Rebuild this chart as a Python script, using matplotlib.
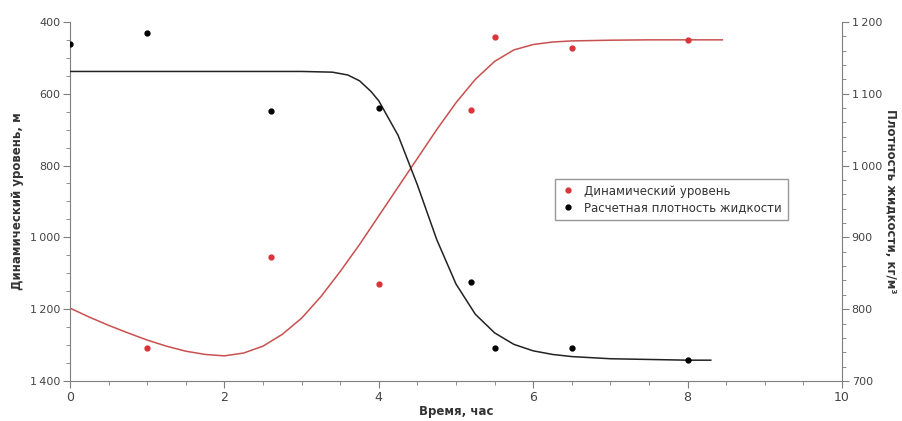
import matplotlib.pyplot as plt
from matplotlib.ticker import FuncFormatter, MultipleLocator

# measured points
t_pts = [0, 1, 2.6, 4, 5.2, 5.5, 6.5, 8]
level_pts = [None, 1308, 1055, 1130, 645, 442, 472, 450]
dens_pts = [1169, 1185, 1076, 1080, 838, 746, 746, 729]

# fitted curves
t_level = [0, 0.25, 0.5, 0.75, 1, 1.25, 1.5, 1.75, 2, 2.25, 2.5, 2.75, 3, 3.25, 3.5, 3.75,
           4, 4.25, 4.5, 4.75, 5, 5.25, 5.5, 5.75, 6, 6.25, 6.5, 7, 7.5, 8, 8.45]
level_fit = [1197, 1222, 1245, 1266, 1286, 1303, 1317, 1326, 1330, 1322, 1303, 1270, 1225, 1165,
             1095, 1020, 940, 860, 780, 700, 625, 560, 510, 478, 463, 456, 453, 451, 450, 450, 450]
t_dens = [0, 1, 2, 3, 3.4, 3.6, 3.75, 3.9, 4, 4.25, 4.5, 4.75, 5, 5.25, 5.5, 5.75, 6, 6.25,
          6.5, 7, 7.5, 8, 8.3]
dens_fit = [1131, 1131, 1131, 1131, 1130, 1126, 1118, 1103, 1090, 1042, 973, 897, 835, 793,
            767, 751, 742, 737, 734, 731, 730, 729, 729]

red = '#d9343a'
red_line = '#c8504f'
dark = '#222222'
gray = '#7f7f7f'

def thousands(v, pos):
    return f'{int(v):,}'.replace(',', '\u2009')

fig = plt.figure(figsize=(9.02, 4.21), dpi=100)
ax = fig.add_axes([0.0776, 0.095, 0.8559, 0.853])
ax2 = ax.twinx()

lx = [t for t, v in zip(t_pts, level_pts) if v is not None]
ly = [v for v in level_pts if v is not None]
ax.plot(t_level, level_fit, color=red_line, lw=1.1)
ax.plot(lx, ly, 'o', color=red, ms=3.5, label='Динамический уровень')
ax2.plot(t_dens, dens_fit, color=dark, lw=1.1)
ax2.plot(t_pts, dens_pts, 'o', color='black', ms=3.5, label='Расчетная плотность жидкости')

ax.set_xlim(0, 10)
ax.set_ylim(1400, 400)
ax2.set_ylim(700, 1200)

ax.xaxis.set_major_locator(MultipleLocator(2))
ax.xaxis.set_minor_locator(MultipleLocator(0.5))
ax.yaxis.set_major_locator(MultipleLocator(200))
ax.yaxis.set_minor_locator(MultipleLocator(50))
ax2.yaxis.set_major_locator(MultipleLocator(100))
ax2.yaxis.set_minor_locator(MultipleLocator(20))
ax.yaxis.set_major_formatter(FuncFormatter(thousands))
ax2.yaxis.set_major_formatter(FuncFormatter(thousands))

for a in (ax, ax2):
    a.spines['top'].set_visible(False)
    for s in a.spines.values():
        s.set_color(gray)
    a.tick_params(which='both', colors=gray, labelcolor='#444444', labelsize=8, pad=2)
    a.tick_params(which='major', length=5)
    a.tick_params(which='minor', length=3)
ax.spines['right'].set_visible(False)
ax2.spines['left'].set_visible(False)
ax2.spines['bottom'].set_visible(False)
ax.tick_params(axis='x', labelsize=9)

ax.set_xlabel('Время, час', fontsize=8.5, fontweight='bold', color='#333333', labelpad=1)
ax.set_ylabel('Динамический уровень, м', fontsize=8.5, fontweight='bold', color='#333333',
              labelpad=4)
ax2.set_ylabel('Плотность жидкости, кг/м³', fontsize=8.5, fontweight='bold', color='#333333',
               rotation=270, labelpad=11)

h1, l1 = ax.get_legend_handles_labels()
h2, l2 = ax2.get_legend_handles_labels()
leg = ax2.legend(h1 + h2, l1 + l2, loc='upper left', bbox_to_anchor=(0.62, 0.58),
                 fontsize=8.5, frameon=True, fancybox=False, handlelength=1.2,
                 borderpad=0.5, labelspacing=0.3)
leg.get_frame().set_edgecolor(gray)
for txt in leg.get_texts():
    txt.set_color('#333333')

fig.savefig('out.png', dpi=100)
